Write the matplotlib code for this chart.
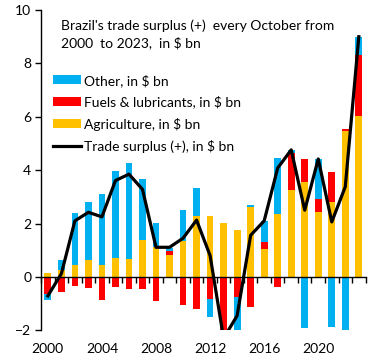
import matplotlib
matplotlib.use("Agg")
import matplotlib.pyplot as plt
import numpy as np

plt.rcParams['font.family'] = ['Lato', 'DejaVu Sans']

# data, October of each year, $ bn
years = list(range(2000, 2024))
agriculture = [0.15, 0.27, 0.45, 0.65, 0.45, 0.72, 0.69, 1.40, 1.12, 0.82, 1.35, 2.30,
               2.30, 2.03, 1.76, 2.62, 1.05, 2.37, 3.26, 3.56, 2.43, 2.82, 5.47, 6.03]
fuels = [-0.64, -0.55, -0.33, -0.40, -0.85, -0.36, -0.44, -0.44, -0.92, 0.16, -1.07, -1.20,
         -0.82, -4.30, -0.77, -1.11, 0.27, -0.36, 1.40, 0.86, 0.49, 1.11, 0.08, 2.28]
other = [-0.22, 0.37, 1.95, 2.16, 2.67, 3.26, 3.58, 2.27, 0.90, 0.12, 1.16, 1.03,
         -0.67, 0.00, -2.40, 0.08, 0.78, 2.09, 0.10, -1.90, 1.50, -1.86, -2.17, 0.69]
surplus = [-0.71, 0.12, 2.10, 2.42, 2.25, 3.61, 3.85, 3.28, 1.11, 1.11, 1.45, 2.13,
           0.80, -2.30, -1.45, 1.56, 2.10, 4.08, 4.76, 2.50, 4.42, 2.06, 3.38, 9.00]

series = [("Other, in $ bn", other, "#00B0F0"),
          ("Fuels & lubricants, in $ bn", fuels, "#FF0000"),
          ("Agriculture, in $ bn", agriculture, "#FFC000")]

fig = plt.figure(figsize=(3.84, 3.6), dpi=100)
ax = fig.add_axes([0.107, 0.0825, 0.845, 0.8897])

x = np.array(years)
pos_base = np.zeros(len(years))
neg_base = np.zeros(len(years))
handles = {}
# stack in Excel order: agriculture first, then fuels, then other
for name, vals, col in series[::-1]:
    v = np.array(vals)
    base = np.where(v >= 0, pos_base, neg_base)
    b = ax.bar(x, v, bottom=base, width=0.5, color=col, label=name, zorder=2)
    handles[name] = b
    pos_base += np.where(v > 0, v, 0)
    neg_base += np.where(v < 0, v, 0)

line, = ax.plot(x, surplus, color="black", lw=2.3, zorder=3,
                label="Trade surplus (+), in $ bn")

ax.set_xlim(1999.5, 2023.5)
ax.set_ylim(-2, 10)
ax.set_yticks([-2, 0, 2, 4, 6, 8, 10])
ax.tick_params(axis="y", direction="out", length=4, width=1, labelsize=10, pad=3)

for s in ["top", "right"]:
    ax.spines[s].set_visible(False)
ax.spines["left"].set_linewidth(1)
ax.spines["bottom"].set_position(("data", 0))
ax.spines["bottom"].set_linewidth(1)
ax.set_xticks([])
ax.set_xticks(np.arange(1999.5, 2024, 1), minor=True)
ax.tick_params(axis="x", which="minor", direction="out", length=4, width=1)
ax.tick_params(axis="x", which="major", labelbottom=False, length=0)

sec = ax.secondary_xaxis("bottom")
sec.set_xticks([2000, 2004, 2008, 2012, 2016, 2020])
sec.tick_params(length=0, labelsize=10, pad=9)
sec.spines["bottom"].set_visible(False)

ax.text(0.06, 0.972, "Brazil's trade surplus (+)  every October from\n2000  to 2023,  in $ bn",
        transform=ax.transAxes, va="top", ha="left", fontsize=10, linespacing=1.45)

ax.legend([handles[s[0]] for s in series] + [line],
          [s[0] for s in series] + ["Trade surplus (+), in $ bn"],
          loc="upper left", bbox_to_anchor=(0.02, 0.818), frameon=False,
          fontsize=10, handlelength=2.0, handleheight=0.6, labelspacing=0.65,
          handletextpad=0.25, borderaxespad=0)

fig.savefig("out.png", dpi=100)
